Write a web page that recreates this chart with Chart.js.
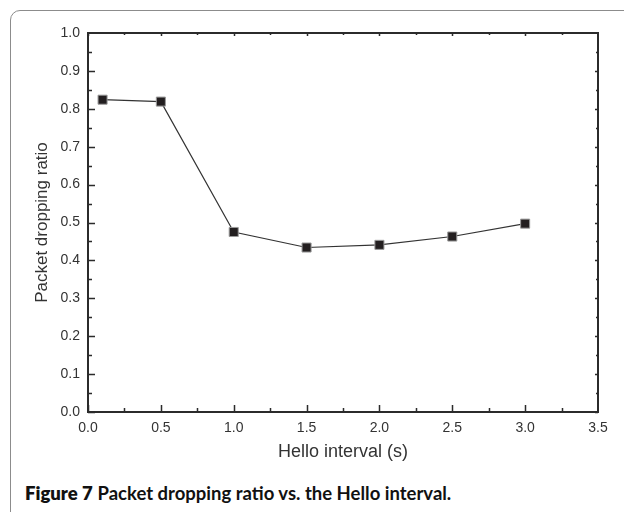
<!DOCTYPE html>
<html>
<head>
<meta charset="utf-8">
<script src="https://cdn.jsdelivr.net/npm/chart.js@4.4.1/dist/chart.umd.min.js"></script>
<style>
  html, body { margin: 0; padding: 0; background: #fff; overflow: hidden; }
  #frame {
    position: absolute; left: 10px; top: 10px; width: 700px; height: 600px;
    border: 1.5px solid #8c8c8c; border-radius: 10px; box-sizing: border-box;
  }
  #wrap { position: absolute; left: 0; top: 0; width: 624px; height: 467px; }
  #caption {
    position: absolute; left: 25px; top: 482px; margin: 0;
    font-family: Lato, "Open Sans", sans-serif; font-size: 18.5px; color: #111;
    white-space: nowrap;
  }
  #caption b { font-weight: 800; }
  #caption span { font-weight: 700; }
</style>
</head>
<body>
<div id="frame"></div>
<div id="wrap"><canvas id="chart" width="624" height="467"></canvas></div>
<p id="caption"><b>Figure 7</b> <span>Packet dropping ratio vs. the Hello interval.</span></p>
<script>
const helloInterval = [0.1, 0.5, 1.0, 1.5, 2.0, 2.5, 3.0];
const dropRatio = [0.824, 0.819, 0.475, 0.434, 0.441, 0.463, 0.497];
const xTicks = [0.0, 0.5, 1.0, 1.5, 2.0, 2.5, 3.0, 3.5];
const yTicks = [0.0, 0.1, 0.2, 0.3, 0.4, 0.5, 0.6, 0.7, 0.8, 0.9, 1.0];

const axisColor = "#2b2b2b";
const textColor = "#333";

// frame around the plot with inward major/minor ticks on all four sides
const frameTicks = {
    id: "frameTicks",
    afterDatasetsDraw(chart) {
        const { ctx, chartArea: a, scales } = chart;
        const xs = scales.x, ys = scales.y;
        ctx.save();
        ctx.strokeStyle = axisColor;
        ctx.lineWidth = 2;
        ctx.strokeRect(a.left, a.top, a.right - a.left, a.bottom - a.top);
        ctx.lineWidth = 1.5;
        ctx.beginPath();
        for (let i = 0; i < xTicks.length - 1; i++) {
            for (const v of [xTicks[i], (xTicks[i] + xTicks[i + 1]) / 2]) {
                const px = Math.round(xs.getPixelForValue(v)) + 0.5;
                const major = v === xTicks[i];
                ctx.moveTo(px, a.bottom); ctx.lineTo(px, a.bottom - (major ? 7 : 4));
                ctx.moveTo(px, a.top); ctx.lineTo(px, a.top + (major ? 3 : 2));
            }
        }
        for (let i = 0; i < yTicks.length - 1; i++) {
            for (const v of [yTicks[i], (yTicks[i] + yTicks[i + 1]) / 2]) {
                const py = Math.round(ys.getPixelForValue(v)) + 0.5;
                const major = v === yTicks[i];
                ctx.moveTo(a.left, py); ctx.lineTo(a.left + (major ? 7 : 4), py);
                ctx.moveTo(a.right, py); ctx.lineTo(a.right - (major ? 3 : 2), py);
            }
        }
        ctx.stroke();
        ctx.restore();
    }
};

new Chart(document.getElementById("chart"), {
    type: "line",
    data: {
        datasets: [{
            data: helloInterval.map((x, i) => ({ x: x, y: dropRatio[i] })),
            borderColor: "#333",
            borderWidth: 1.2,
            pointStyle: "rect",
            pointRadius: 6.4,
            pointBackgroundColor: "#231f20",
            pointBorderColor: "#9a9a9a",
            pointBorderWidth: 1,
            tension: 0
        }]
    },
    options: {
        responsive: false,
        animation: false,
        events: [],
        layout: { padding: { left: 28, top: 33, right: 26, bottom: 0 } },
        plugins: { legend: { display: false }, tooltip: { enabled: false } },
        scales: {
            x: {
                type: "linear",
                min: 0, max: 3.5,
                afterBuildTicks: s => { s.ticks = xTicks.map(v => ({ value: v })); },
                afterFit: s => { s.height = 467 - 412; },
                grid: { display: false, drawTicks: false },
                border: { display: false },
                ticks: {
                    padding: 8,
                    color: textColor,
                    font: { family: "'Liberation Sans', Arial, sans-serif", size: 14 },
                    callback: v => v.toFixed(1)
                },
                title: {
                    display: true,
                    text: "Hello interval (s)",
                    color: textColor,
                    padding: { top: 0, bottom: 4 },
                    font: { family: "'Liberation Sans', Arial, sans-serif", size: 18 }
                }
            },
            y: {
                min: 0, max: 1.0,
                afterBuildTicks: s => { s.ticks = yTicks.map(v => ({ value: v })); },
                afterFit: s => { s.width = 88 - 28; },
                grid: { display: false, drawTicks: false },
                border: { display: false },
                ticks: {
                    padding: 8,
                    color: textColor,
                    font: { family: "'Liberation Sans', Arial, sans-serif", size: 14 },
                    callback: v => v.toFixed(1)
                },
                title: {
                    display: true,
                    text: "Packet dropping ratio",
                    color: textColor,
                    padding: { top: 4, bottom: 0 },
                    font: { family: "'Liberation Sans', Arial, sans-serif", size: 17 }
                }
            }
        }
    },
    plugins: [frameTicks]
});
</script>
</body>
</html>
